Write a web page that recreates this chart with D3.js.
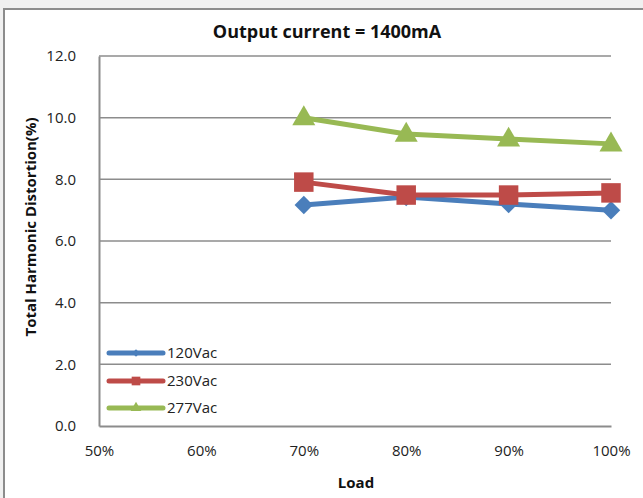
<!DOCTYPE html>
<html>
<head>
<meta charset="utf-8">
<script src="https://cdn.jsdelivr.net/npm/d3@7"></script>
<style>
  html, body { margin: 0; padding: 0; background: #f0f0f0; }
  svg { display: block; }
</style>
</head>
<body>
<svg id="chart" width="643" height="498"></svg>
<script>
// Load levels (%) on the x axis
const loads = [70, 80, 90, 100];
const xTicks = [50, 60, 70, 80, 90, 100];
const yTicks = [0, 2, 4, 6, 8, 10, 12];

// THD (%) per input voltage
const seriesNames = ["120Vac", "230Vac", "277Vac"];
const thd120 = [7.17, 7.43, 7.2, 7.0];
const thd230 = [7.91, 7.49, 7.49, 7.56];
const thd277 = [10.0, 9.47, 9.31, 9.15];

const colors = ["#4a7ebb", "#be4b48", "#98b954"];
const shapes = ["diamond", "square", "triangle"];
const seriesValues = [thd120, thd230, thd277];

const font = "'Open Sans', 'DejaVu Sans', sans-serif";

const svg = d3.select("#chart");

// chart panel
svg.append("rect").attr("x", 4).attr("y", 9).attr("width", 660).attr("height", 500)
  .attr("fill", "#ffffff").attr("stroke", "#8c8c8c").attr("stroke-width", 2);

const plotLeft = 99, plotRight = 611, plotTop = 56, plotBottom = 426;
const x = d3.scaleLinear().domain([50, 100]).range([plotLeft, plotRight]);
const y = d3.scaleLinear().domain([0, 12]).range([plotBottom, plotTop]);

// gridlines
svg.append("g").selectAll("line").data(yTicks.filter(d => d > 0)).join("line")
  .attr("x1", plotLeft).attr("x2", plotRight)
  .attr("y1", d => y(d)).attr("y2", d => y(d))
  .attr("stroke", "#8c8c8c").attr("stroke-width", 1.5);

// axes
const yAxis = svg.append("g").attr("transform", `translate(${plotLeft},0)`)
  .call(d3.axisLeft(y).tickValues(yTicks).tickFormat(d3.format(".1f")).tickSize(0).tickPadding(23));
const xAxis = svg.append("g").attr("transform", `translate(0,${plotBottom})`)
  .call(d3.axisBottom(x).tickValues(xTicks).tickFormat(d => d + "%").tickSize(0).tickPadding(19));
[yAxis, xAxis].forEach(a => {
  a.select(".domain").attr("stroke", "#8c8c8c").attr("stroke-width", 2);
  a.selectAll("text").attr("font-family", font).attr("font-size", 15).attr("fill", "#222");
});

// series lines
const line = d3.line().x((d, i) => x(loads[i])).y(d => y(d));

// diamond drawn as a square turned 45 degrees
function marker(shape, size) {
  const t = shape === "triangle" ? d3.symbolTriangle : d3.symbolSquare;
  return d3.symbol().type(t).size(size)();
}
const markerRotate = s => (shapes[s] === "diamond" ? " rotate(45)" : "");

seriesValues.forEach((vals, s) => {
  svg.append("path").datum(vals).attr("d", line)
    .attr("fill", "none").attr("stroke", colors[s]).attr("stroke-width", 5)
    .attr("stroke-linejoin", "round");
});
seriesValues.forEach((vals, s) => {
  const size = shapes[s] === "diamond" ? 170 : shapes[s] === "square" ? 380 : 230;
  svg.append("g").selectAll("path").data(vals).join("path")
    .attr("transform", (d, i) => `translate(${x(loads[i])},${y(d) + (shapes[s] === "triangle" ? 1 : 0)})` + markerRotate(s))
    .attr("d", marker(shapes[s], size))
    .attr("fill", colors[s]);
});

// legend
const legendY = [353, 381, 408];
seriesNames.forEach((name, s) => {
  const g = svg.append("g").attr("transform", `translate(0,${legendY[s]})`);
  g.append("line").attr("x1", 109).attr("x2", 163).attr("y1", 0).attr("y2", 0)
    .attr("stroke", colors[s]).attr("stroke-width", 5).attr("stroke-linecap", "round");
  const size = shapes[s] === "diamond" ? 28 : shapes[s] === "square" ? 75 : 50;
  g.append("path").attr("transform", "translate(136,0)" + markerRotate(s)).attr("d", marker(shapes[s], size))
    .attr("fill", colors[s]);
  g.append("text").attr("x", 167).attr("y", 0).attr("dy", "0.35em")
    .attr("font-family", font).attr("font-size", 15).attr("fill", "#222").text(name);
});

// titles
svg.append("text").attr("x", 327).attr("y", 38).attr("text-anchor", "middle")
  .attr("font-family", font).attr("font-weight", "bold").attr("font-size", 18).attr("fill", "#111")
  .text("Output current = 1400mA");
svg.append("text").attr("x", 356).attr("y", 483).attr("dy", "0.35em").attr("text-anchor", "middle")
  .attr("font-family", font).attr("font-weight", "bold").attr("font-size", 15).attr("fill", "#111")
  .text("Load");
svg.append("text").attr("transform", "translate(31,227) rotate(-90)").attr("dy", "0.35em").attr("text-anchor", "middle")
  .attr("font-family", font).attr("font-weight", "bold").attr("font-size", 15).attr("fill", "#111")
  .text("Total Harmonic Distortion(%)");
</script>
</body>
</html>
